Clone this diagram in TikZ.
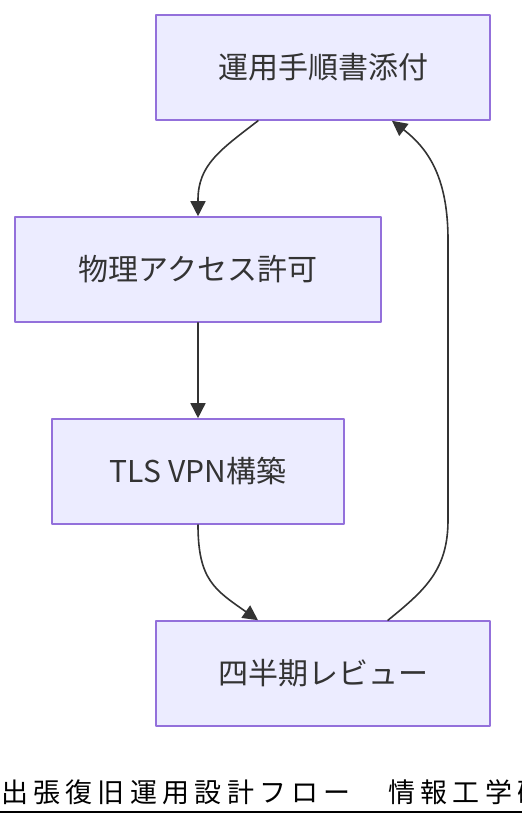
\documentclass[tikz,border=0pt]{standalone}
\usepackage{fontspec}
\setmainfont{Noto Sans CJK JP}
\newfontfamily\titlefont{Noto Sans CJK JP}[LetterSpace=19.5]
\usetikzlibrary{arrows.meta}
\definecolor{boxfill}{HTML}{ECECFF}
\definecolor{boxline}{HTML}{9370DB}
\definecolor{edgecol}{HTML}{333333}

\begin{document}
\begin{tikzpicture}[x=1pt,y=-1pt,line cap=round,line join=round,>={Triangle[length=15pt,width=15pt]},
  stepbox/.style={draw=boxline,fill=boxfill,line width=1.6pt,minimum height=105pt,inner sep=0pt,
    text=edgecol,font=\fontsize{30}{36}\selectfont},
  flow/.style={->,draw=edgecol,line width=1.6pt}]
\useasboundingbox (0,0) rectangle (522,828);
% boxes
\node[stepbox,minimum width=334pt] (manual) at (323,67.5) {運用手順書添付};
\node[stepbox,minimum width=366pt] (access) at (198,269.5) {物理アクセス許可};
\node[stepbox,minimum width=292pt] (vpn) at (198,471.5) {TLS VPN構築};
\node[stepbox,minimum width=334pt] (review) at (323,673.5) {四半期レビュー};
% arrows
\draw[flow] ([xshift=-65pt]manual.south) .. controls (220,150) and (198,165) .. (198,200) -- (access.north);
\draw[flow] (access) -- (vpn);
\draw[flow] (vpn.south) .. controls (198,580) and (215,590) .. ([xshift=-65pt]review.north);
\draw[flow] ([xshift=65pt]review.north) .. controls (425,590) and (448,570) .. (448,520)
  -- (448,240) .. controls (448,180) and (430,150) .. ([xshift=69pt]manual.south);
% title
\node[anchor=base west,inner sep=0pt,font=\titlefont\fontsize{27}{32}\selectfont] (title) at (1,802) {出張復旧運用設計フロー　情報工学研};
\draw[line width=2pt] (0,812) -- (522,812);
\end{tikzpicture}
\end{document}
